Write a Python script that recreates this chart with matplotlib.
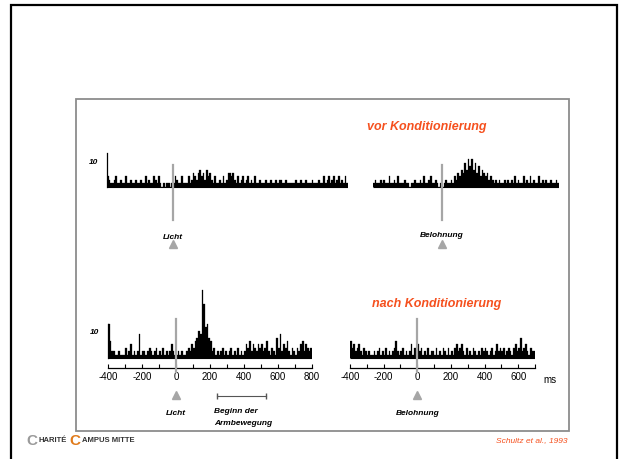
import numpy as np
import matplotlib
matplotlib.use('Agg')
import matplotlib.pyplot as plt
from matplotlib.patches import Rectangle

plt.rcParams['font.family'] = ['Liberation Sans', 'DejaVu Sans']

# spike counts per 10 ms bin, every histogram starts at -400 ms
bin_ms = 10
t_start = -400

# vor Konditionierung, Licht (-400 .. 1060 ms)
vor_licht = [3, 2, 1, 1, 2, 3, 1, 1, 2, 1,
             1, 3, 1, 1, 2, 1, 1, 2, 1, 1,
             2, 1, 1, 3, 1, 2, 1, 1, 3, 2,
             1, 3, 1, 0, 1, 0, 1, 1, 0, 1,
             1, 3, 2, 1, 1, 3, 1, 1, 1, 3,
             1, 2, 4, 3, 2, 4, 5, 3, 4, 2,
             5, 3, 4, 2, 1, 3, 1, 1, 2, 1,
             3, 1, 2, 4, 4, 3, 4, 2, 1, 3,
             1, 2, 3, 1, 2, 3, 1, 2, 1, 3,
             1, 1, 2, 1, 1, 1, 2, 1, 1, 2,
             1, 1, 2, 1, 2, 2, 1, 1, 2, 1,
             1, 1, 1, 1, 2, 1, 1, 2, 1, 1,
             2, 1, 1, 1, 2, 1, 1, 1, 2, 1,
             1, 3, 1, 2, 3, 1, 2, 3, 1, 2,
             3, 1, 2, 1, 3, 1]

# vor Konditionierung, Belohnung (-400 .. 680 ms)
vor_belohnung = [1, 2, 1, 1, 2, 1, 2, 1, 1, 3,
                 1, 1, 2, 1, 3, 1, 1, 1, 2, 1,
                 1, 0, 1, 1, 2, 1, 1, 2, 1, 3,
                 1, 1, 2, 3, 1, 1, 2, 1, 0, 1,
                 0, 1, 2, 1, 1, 2, 1, 3, 2, 4,
                 3, 5, 4, 7, 5, 8, 6, 8, 5, 7,
                 4, 6, 3, 5, 4, 3, 4, 2, 3, 2,
                 1, 2, 1, 2, 1, 1, 2, 1, 2, 1,
                 2, 1, 3, 1, 2, 1, 1, 3, 1, 2,
                 1, 3, 1, 2, 1, 1, 3, 1, 2, 1,
                 2, 1, 1, 2, 1, 1, 2, 1]

# nach Konditionierung, Licht (-400 .. 800 ms)
nach_licht = [10, 5, 2, 2, 1, 1, 2, 1, 1, 1,
              3, 1, 2, 4, 1, 2, 1, 2, 7, 1,
              2, 2, 1, 2, 3, 2, 1, 2, 3, 1,
              2, 1, 3, 1, 2, 1, 2, 4, 2, 1,
              1, 2, 1, 2, 1, 1, 2, 3, 2, 4,
              3, 5, 6, 8, 7, 20, 16, 9, 10, 6,
              5, 2, 3, 1, 2, 1, 2, 3, 1, 2,
              1, 2, 3, 1, 2, 1, 3, 1, 2, 1,
              2, 4, 3, 5, 2, 4, 3, 2, 4, 3,
              4, 2, 3, 5, 2, 1, 3, 2, 1, 6,
              3, 7, 2, 4, 3, 5, 2, 1, 3, 2,
              1, 3, 2, 4, 5, 2, 4, 3, 2, 3]

# nach Konditionierung, Belohnung (-400 .. 700 ms)
nach_belohnung = [5, 3, 4, 2, 3, 4, 2, 1, 3, 2,
                  1, 2, 1, 1, 2, 1, 2, 3, 1, 2,
                  1, 3, 1, 2, 1, 2, 3, 5, 2, 1,
                  2, 3, 1, 2, 1, 2, 4, 1, 3, 2,
                  4, 2, 3, 1, 2, 1, 3, 1, 2, 2,
                  1, 3, 1, 2, 1, 3, 2, 1, 3, 1,
                  2, 1, 3, 4, 2, 3, 4, 2, 1, 3,
                  1, 2, 1, 3, 2, 1, 2, 1, 3, 2,
                  3, 2, 1, 2, 3, 1, 2, 4, 2, 3,
                  2, 3, 1, 2, 3, 2, 1, 3, 4, 2,
                  3, 6, 2, 3, 4, 2, 1, 3, 2, 2]

scale_bar = 10
arm_movement = [240, 530]
bottom_ticks = {'licht': [-400, -200, 0, 200, 400, 600, 800],
                'belohnung': [-400, -200, 0, 200, 400, 600]}

W, H = 621, 459
PX_PER_COUNT = 3.4
YLO, YHI = -3, 22
orange = '#f5501e'
stim_grey = '#a6a6a6'

fig = plt.figure(figsize=(W / 100, H / 100), dpi=100)


def add_ax(x0, x1, base):
    # x0/x1 = pixel position of the x limits, base = pixel row of count 0
    bot = base - YLO * PX_PER_COUNT
    top = base - YHI * PX_PER_COUNT
    ax = fig.add_axes([x0 / W, 1 - bot / H, (x1 - x0) / W, (bot - top) / H])
    ax.patch.set_visible(False)
    ax.set_ylim(YLO, YHI)
    for s in ['left', 'right', 'top']:
        ax.spines[s].set_visible(False)
    ax.set_yticks([])
    return ax


def draw_hist(ax, counts):
    edges = t_start + bin_ms * np.arange(len(counts))
    ax.bar(edges, counts, width=bin_ms, align='edge', color='black',
           edgecolor='black', linewidth=0.2)
    ax.hlines(0, t_start, edges[-1] + bin_ms, color='black', lw=0.8)
    ax.set_xlim(t_start, edges[-1] + bin_ms)


def stimulus(ax, lo, hi, tri_y, label, label_y):
    ax.plot([0, 0], [lo, hi], color=stim_grey, lw=1.6, clip_on=False, zorder=3)
    ax.plot([0], [tri_y], marker='^', color=stim_grey, markersize=6,
            clip_on=False)
    ax.text(0, label_y, label, ha='center', va='center', fontsize=6,
            fontweight='bold', style='italic', clip_on=False)


def scalebar(ax, label_y):
    ax.plot([t_start, t_start], [0, scale_bar], color='black', lw=0.9,
            clip_on=False)
    ax.annotate('10', xy=(t_start, label_y), xytext=(-6.5, 0),
                textcoords='offset points', ha='right', va='center',
                fontsize=6, fontweight='bold', style='italic')


# top row (vor Konditionierung)
ax1 = add_ax(107, 348, 186.5)
draw_hist(ax1, vor_licht)
ax1.spines['bottom'].set_visible(False)
ax1.set_xticks([])
stimulus(ax1, -10, 6.3, -17, 'Licht', -14.9)
scalebar(ax1, 7)

ax2 = add_ax(373, 559, 186.5)
draw_hist(ax2, vor_belohnung)
ax2.spines['bottom'].set_visible(False)
ax2.set_xticks([])
stimulus(ax2, -10, 6.3, -17, 'Belohnung', -14.3)

# bottom row (nach Konditionierung)
ax3 = add_ax(108, 312, 358)
draw_hist(ax3, nach_licht)
stimulus(ax3, -4, 11.5, -11, 'Licht', -16.2)
scalebar(ax3, 7.6)
ax3.plot(arm_movement, [-11.2, -11.2], color='#555555', lw=0.8,
         marker='|', markersize=4, clip_on=False)
ax3.text(arm_movement[0] - 15, -15.8, 'Beginn der', fontsize=6,
         fontweight='bold', style='italic', va='center', clip_on=False)
ax3.text(arm_movement[0] - 15, -19.3, 'Armbewegung', fontsize=6,
         fontweight='bold', style='italic', va='center', clip_on=False)

ax4 = add_ax(350, 535, 358)
draw_hist(ax4, nach_belohnung)
stimulus(ax4, -4, 11.5, -11, 'Belohnung', -16.2)
ax4.text(750, -6.5, 'ms', fontsize=7, va='center', ha='left', clip_on=False)

for ax, key in [(ax3, 'licht'), (ax4, 'belohnung')]:
    ax.spines['bottom'].set_position(('data', -2.9))
    ax.spines['bottom'].set_linewidth(0.9)
    ticks = bottom_ticks[key]
    ax.set_xticks(ticks)
    ax.set_xticklabels([str(t) for t in ticks])
    ax.set_xticks(np.arange(ticks[0], ax.get_xlim()[1] + 1, 100), minor=True)
    ax.tick_params(axis='x', which='both', direction='in', length=3,
                   width=0.8, pad=3, labelsize=7)

# titles
fig.text(427 / W, 1 - 127 / H, 'vor Konditionierung', color=orange,
         fontsize=9, fontweight='bold', style='italic', ha='center', va='center')
fig.text(437 / W, 1 - 304 / H, 'nach Konditionierung', color=orange,
         fontsize=9, fontweight='bold', style='italic', ha='center', va='center')

# frames of the slide
fig.patches.append(Rectangle((11 / W, -0.1), 606 / W, (H - 5) / H + 0.1,
                             transform=fig.transFigure, fill=False,
                             edgecolor='black', lw=1.6))
fig.patches.append(Rectangle((76 / W, 1 - 431 / H), 493 / W, 332 / H,
                             transform=fig.transFigure, fill=False,
                             edgecolor='#8c8c8c', lw=1.3))

# footer
fig.text(567 / W, 1 - 441 / H, 'Schultz et al., 1993', color=orange,
         fontsize=6, style='italic', ha='right', va='center')
fig.text(26 / W, 1 - 441 / H, 'C', color='#9a9a9a', fontsize=11,
         fontweight='bold', va='center')
fig.text(38.5 / W, 1 - 441 / H, 'HARITÉ', color='#333333', fontsize=5.5,
         fontweight='bold', va='center')
fig.text(69 / W, 1 - 441 / H, 'C', color='#e07a1a', fontsize=11,
         fontweight='bold', va='center')
fig.text(81.5 / W, 1 - 441 / H, 'AMPUS MITTE', color='#333333', fontsize=5.5,
         fontweight='bold', va='center')

plt.savefig('out.png', dpi=100)
